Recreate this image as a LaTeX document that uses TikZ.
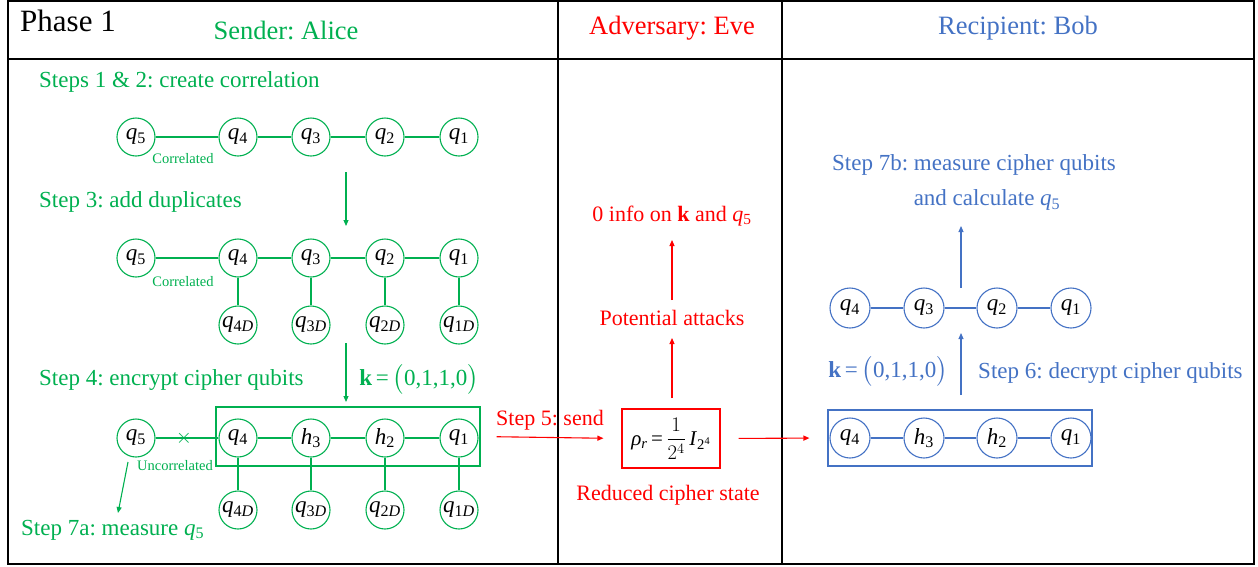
\documentclass[tikz,border=0pt]{standalone}
\usepackage{amsmath}
\usepackage{fontspec}
\setmainfont{Liberation Serif}
\usetikzlibrary{arrows.meta}
\definecolor{grn}{RGB}{0,176,80}
\definecolor{evered}{RGB}{255,0,0}
\definecolor{bobblue}{RGB}{68,114,196}
\newcommand{\qq}[1]{\textit{q}\textsubscript{#1}}
\newcommand{\hh}[1]{\textit{h}\textsubscript{#1}}
\newcommand{\kvec}{\textbf{k}\,=\,$\bigl($0,1,1,0$\bigr)$}
\frenchspacing
\begin{document}
\begin{tikzpicture}[x=1pt,y=-1pt,
 every node/.style={inner sep=0pt},
 lbl/.style={font=\fontsize{23}{27}\selectfont, anchor=west},
 clbl/.style={font=\fontsize{23}{27}\selectfont},
 elbl/.style={font=\fontsize{22}{26}\selectfont, text=evered},
 hdr/.style={font=\fontsize{26.5}{30}\selectfont},
 small/.style={font=\fontsize{14.5}{16}\selectfont, text=grn},
 qn/.style={circle,draw,line width=1.1pt,minimum size=38pt,inner sep=0pt,font=\fontsize{23}{26}\selectfont,text=black},
 gq/.style={qn,draw=grn},
 bq/.style={qn,draw=bobblue,minimum size=40pt},
 gl/.style={draw=grn,line width=1.1pt},
 bl/.style={draw=bobblue,line width=1.1pt},
 arr/.style={line width=1.1pt,-{Triangle[length=6pt,width=5pt]}},
]
\useasboundingbox (0,0) rectangle (1258,566);
% table
\draw[line width=1.2pt] (8,1) rectangle (1254,564);
\draw[line width=1.2pt] (8,59) -- (1254,59);
\draw[line width=1.2pt] (558,1) -- (558,564);
\draw[line width=1.2pt] (782,1) -- (782,564);
% headers
\node[anchor=west, font=\fontsize{31}{34}\selectfont] (ph) at (20,21) {Phase 1};
\node[hdr, text=grn] (hA) at (286,30) {Sender: Alice};
\node[hdr, text=evered] (hE) at (672,28) {Adversary: Eve};
\node[hdr, text=bobblue] (hB) at (1018,28) {Recipient: Bob};

% ---------- Alice ----------
\node[lbl, text=grn] (s12) at (39,82) {Steps 1 \& 2: create correlation};
\node[gq] (a5) at (136,137) {\qq{5}};
\node[gq] (a4) at (238,137) {\qq{4}};
\node[gq] (a3) at (311,137) {\qq{3}};
\node[gq] (a2) at (385,137) {\qq{2}};
\node[gq] (a1) at (459,137) {\qq{1}};
\draw[gl] (a5) -- (a4) -- (a3) -- (a2) -- (a1);
\node[small] (cor1) at (183,159) {Correlated};

\coordinate (g1s) at (346,172);
\coordinate (g1e) at (346,226);
\draw[arr,grn] (g1s) -- (g1e);

\node[lbl, text=grn] (s3) at (39,202) {Step 3: add duplicates};
\node[gq] (b5) at (136,258) {\qq{5}};
\node[gq] (b4) at (238,258) {\qq{4}};
\node[gq] (b3) at (311,258) {\qq{3}};
\node[gq] (b2) at (385,258) {\qq{2}};
\node[gq] (b1) at (459,258) {\qq{1}};
\node[gq] (bd4) at (238,325) {\qq{4\textit{D}}};
\node[gq] (bd3) at (311,325) {\qq{3\textit{D}}};
\node[gq] (bd2) at (385,325) {\qq{2\textit{D}}};
\node[gq] (bd1) at (459,325) {\qq{1\textit{D}}};
\draw[gl] (b5) -- (b4) -- (b3) -- (b2) -- (b1);
\draw[gl] (b4) -- (bd4);
\draw[gl] (b3) -- (bd3);
\draw[gl] (b2) -- (bd2);
\draw[gl] (b1) -- (bd1);
\node[small] (cor2) at (183,282) {Correlated};

\coordinate (g2s) at (346,343);
\coordinate (g2e) at (346,402);
\draw[arr,grn] (g2s) -- (g2e);
\node[clbl, text=grn] (kA) at (419,379) {\kvec};

\node[lbl, text=grn] (s4) at (39,380) {Step 4: encrypt cipher qubits};
\node[draw=grn, line width=1.1pt, minimum width=264pt, minimum height=59pt] (gbox) at (348,436.5) {};
\node[gq] (c5) at (136,438) {\qq{5}};
\node[gq] (c4) at (238,438) {\qq{4}};
\node[gq] (c3) at (311,438) {\hh{3}};
\node[gq] (c2) at (385,438) {\hh{2}};
\node[gq] (c1) at (459,438) {\qq{1}};
\node[gq] (cd4) at (238,510) {\qq{4\textit{D}}};
\node[gq] (cd3) at (311,510) {\qq{3\textit{D}}};
\node[gq] (cd2) at (385,510) {\qq{2\textit{D}}};
\node[gq] (cd1) at (459,510) {\qq{1\textit{D}}};
\draw[gl] (c5) -- (c4) -- (c3) -- (c2) -- (c1);
\draw[gl] (c4) -- (cd4);
\draw[gl] (c3) -- (cd3);
\draw[gl] (c2) -- (cd2);
\draw[gl] (c1) -- (cd1);
\node[text=grn, font=\fontsize{20}{22}\selectfont] (x) at (184,438) {$\times$};
\node[small, fill=white] (unc) at (175,466) {Uncorrelated};

\coordinate (g3s) at (128,462);
\coordinate (g3e) at (118,513);
\draw[arr,grn] (g3s) -- (g3e);
\node[lbl, text=grn] (s7a) at (21,530) {Step 7a: measure \qq{5}};

% ---------- Eve ----------
\node[draw=evered, line width=1.1pt, minimum width=98pt, minimum height=59pt, font=\fontsize{21}{24}\selectfont] (ebox) at (671,438.5) {\textit{ρ}\textsubscript{\textit{r}}\,=\,$\dfrac{1}{2^4}$\,\textit{I}\textsubscript{2\textsuperscript{4}}};
\draw[arr,evered,shorten <=16pt, shorten >=18pt] (gbox.east) -- (ebox.west);
\node[elbl] (s5) at (550,420) {Step 5: send};
\node[elbl] (rcs) at (668,495) {Reduced cipher state};
\node[elbl] (pa) at (672,318) {Potential attacks};
\node[elbl] (oi) at (672,216) {0 info on \textbf{k} and \qq{5}};
\coordinate (e1s) at (672,398);
\coordinate (e1e) at (672,338);
\coordinate (e2s) at (672,300);
\coordinate (e2e) at (672,240);
\draw[arr,evered] (e1s) -- (e1e);
\draw[arr,evered] (e2s) -- (e2e);

% ---------- Bob ----------
\node[draw=bobblue, line width=1.1pt, minimum width=264pt, minimum height=56pt] (bbox) at (960,438) {};
\draw[arr,evered,shorten <=18pt, shorten >=18pt] (ebox.east) -- (bbox.west);
\node[bq] (d4) at (850,438) {\qq{4}};
\node[bq] (d3) at (924,438) {\hh{3}};
\node[bq] (d2) at (997,438) {\hh{2}};
\node[bq] (d1) at (1071,438) {\qq{1}};
\draw[bl] (d4) -- (d3) -- (d2) -- (d1);
\node[bq] (f4) at (850,308) {\qq{4}};
\node[bq] (f3) at (924,308) {\qq{3}};
\node[bq] (f2) at (997,308) {\qq{2}};
\node[bq] (f1) at (1071,308) {\qq{1}};
\draw[bl] (f4) -- (f3) -- (f2) -- (f1);
\coordinate (b1s) at (961,395);
\coordinate (b1e) at (961,333);
\coordinate (b2s) at (961,288);
\coordinate (b2e) at (961,226);
\draw[arr,bobblue] (b1s) -- (b1e);
\draw[arr,bobblue] (b2s) -- (b2e);
\node[clbl, text=bobblue] (kB) at (888,371) {\kvec};
\node[lbl, text=bobblue] (s6) at (978,373) {Step 6: decrypt cipher qubits};
\node[clbl, text=bobblue] (s7b) at (974,165) {Step 7b: measure cipher qubits};
\node[clbl, text=bobblue] (s7c) at (987,200) {and calculate \qq{5}};
\end{tikzpicture}
\end{document}
